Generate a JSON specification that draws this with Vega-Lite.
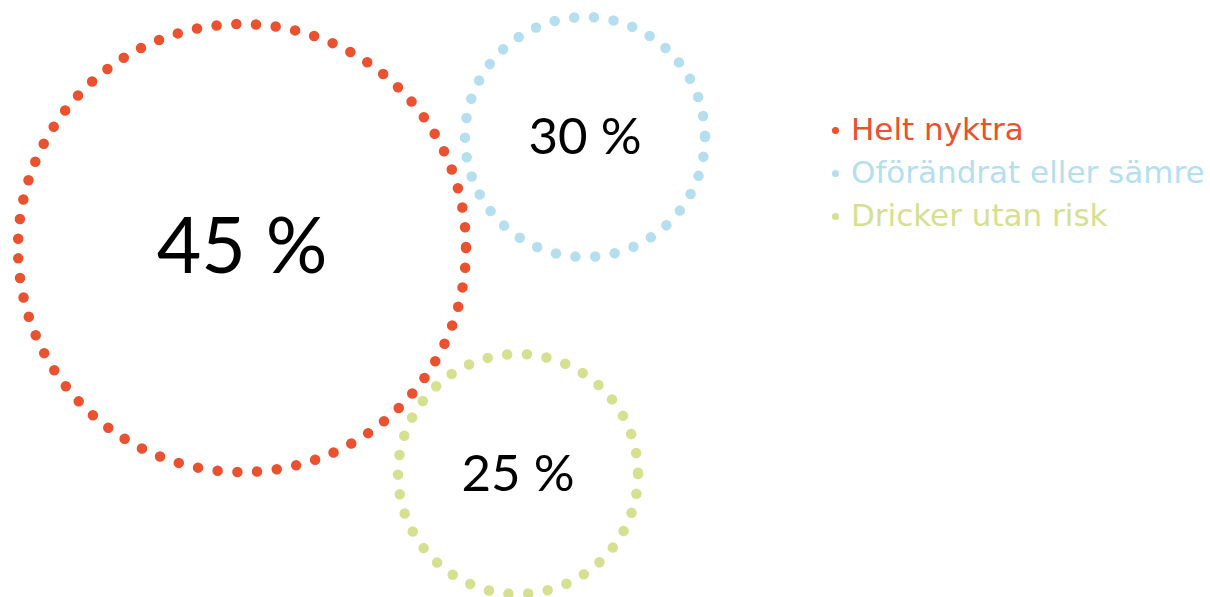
{
  "$schema": "https://vega.github.io/schema/vega-lite/v6.json",
  "width": 1210,
  "height": 597,
  "autosize": {"type": "none"},
  "padding": 0,
  "background": "white",
  "config": {"view": {"stroke": null}, "font": "Lato"},
  "data": {
    "values": [
      {"kategori": "Helt nyktra", "andel": 45, "etikett": "45 %", "x": 242, "y": 248},
      {"kategori": "Oförändrat eller sämre", "andel": 30, "etikett": "30 %", "x": 585, "y": 137},
      {"kategori": "Dricker utan risk", "andel": 25, "etikett": "25 %", "x": 518, "y": 474}
    ]
  },
  "encoding": {
    "x": {"field": "x", "type": "quantitative", "scale": {"domain": [0, 1210], "nice": false, "zero": false}, "axis": null},
    "y": {"field": "y", "type": "quantitative", "scale": {"domain": [0, 597], "reverse": true, "nice": false, "zero": false}, "axis": null}
  },
  "resolve": {"scale": {"size": "independent"}},
  "layer": [
    {
      "mark": {"type": "circle", "size": 0, "opacity": 1, "strokeWidth": 0},
      "encoding": {
        "color": {
          "field": "kategori",
          "type": "nominal",
          "scale": {"domain": ["Helt nyktra", "Oförändrat eller sämre", "Dricker utan risk"], "range": ["#E9512F", "#B5DFEE", "#D5E090"]},
          "legend": {
            "title": null,
            "orient": "none",
            "legendX": 820,
            "legendY": 115,
            "symbolType": "circle",
            "symbolSize": 50,
            "symbolStrokeWidth": 0,
            "labelFontSize": 31,
            "labelFont": "DejaVu Sans",
            "labelOffset": 0,
            "rowPadding": 11,
            "labelLimit": 500,
            "labelColor": {"expr": "datum.label === 'Helt nyktra' ? '#E9512F' : (datum.label === 'Dricker utan risk' ? '#D5E090' : '#B5DFEE')"}
          }
        }
      }
    },
    {
      "mark": {"type": "point", "shape": "circle", "filled": false, "strokeWidth": 10.5, "strokeDash": [0, 19.8], "strokeCap": "round", "opacity": 1},
      "encoding": {
        "size": {"field": "andel", "type": "quantitative", "scale": {"type": "threshold", "domain": [35], "range": [57600, 200704]}, "legend": null},
        "color": {"field": "kategori", "type": "nominal"}
      }
    },
    {
      "mark": {"type": "text", "align": "center", "baseline": "middle", "color": "black", "font": "Lato", "fontWeight": "normal", "dy": 2},
      "encoding": {
        "text": {"field": "etikett", "type": "nominal"},
        "size": {"field": "andel", "type": "quantitative", "scale": {"type": "threshold", "domain": [35], "range": [51, 77]}, "legend": null}
      }
    }
  ]
}
